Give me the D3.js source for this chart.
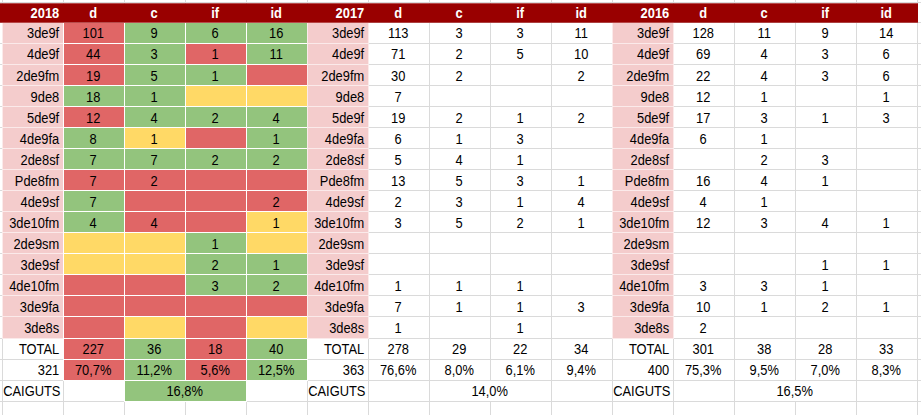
<!DOCTYPE html>
<html>
<head>
<meta charset="utf-8">
<script src="https://cdn.jsdelivr.net/npm/d3@7"></script>
<style>
  body { margin: 0; background: #fff; }
  svg { display: block; }
  text { font-family: "Liberation Sans", Arial, sans-serif; font-size: 14px; }
</style>
</head>
<body>
<svg id="sheet"></svg>
<script>
// Data
let years = ["2018", "2017", "2016"];
let cols = ["d", "c", "if", "id"];
let labels = ["3de9f", "4de9f", "2de9fm", "9de8", "5de9f", "4de9fa", "2de8sf", "Pde8fm",
  "4de9sf", "3de10fm", "2de9sm", "3de9sf", "4de10fm", "3de9fa", "3de8s"];

let values2018 = [
  [101, 9, 6, 16], [44, 3, 1, 11], [19, 5, 1, null], [18, 1, null, null],
  [12, 4, 2, 4], [8, 1, null, 1], [7, 7, 2, 2], [7, 2, null, null],
  [7, null, null, 2], [4, 4, null, 1], [null, null, 1, null], [null, null, 2, 1],
  [null, null, 3, 2], [null, null, null, null], [null, null, null, null]
];
let values2017 = [
  [113, 3, 3, 11], [71, 2, 5, 10], [30, 2, null, 2], [7, null, null, null],
  [19, 2, 1, 2], [6, 1, 3, null], [5, 4, 1, null], [13, 5, 3, 1],
  [2, 3, 1, 4], [3, 5, 2, 1], [null, null, null, null], [null, null, null, null],
  [1, 1, 1, null], [7, 1, 1, 3], [1, null, 1, null]
];
let values2016 = [
  [128, 11, 9, 14], [69, 4, 3, 6], [22, 4, 3, 6], [12, 1, null, 1],
  [17, 3, 1, 3], [6, 1, null, null], [null, 2, 3, null], [16, 4, 1, null],
  [4, 1, null, null], [12, 3, 4, 1], [null, null, null, null], [null, null, 1, 1],
  [3, 3, 1, null], [10, 1, 2, 1], [2, null, null, null]
];

// 2018 conditional colours: R = worse, G = better, Y = equal
let status2018 = ["RGGG", "RGRG", "RGGR", "GGYY", "RGGG", "GYRG", "GGGG", "RRRR",
  "GRRR", "GRRY", "YYGY", "YYGG", "RRGG", "RRRR", "RYRY"];
let statusTotal2018 = "RGRG";
let statusPct2018 = "RGRG";
let statusCaiguts2018 = "G";

let valuesByYear = [values2018, values2017, values2016];

// Sizes
let width = 921;
let height = 415;
let colors = { R: "#e06666", G: "#93c47d", Y: "#ffd966" };
let pink = "#f4cccc";
let headRed = "#990000";
let gridColor = "#dadada";

let fmtPct = v => d3.format(".1f")(v * 100).replace(".", ",") + "%";

// Scales
let x = d3.scaleBand().domain(d3.range(15)).range([1.7, 916.7]);
let rowKeys = labels.concat(["TOTAL", "PCT", "CAIGUTS"]);
let y = d3.scaleBand().domain(rowKeys).range([22.7, 401.7]);
let headTop = 3.3, headBottom = 22.7;
let cw = x.bandwidth(), rh = y.bandwidth();

let svg = d3.select("#sheet").attr("width", width).attr("height", height);

// Grid
let vx = d3.range(16).map(i => 1.7 + i * cw);
svg.append("g").selectAll("line").data(vx).enter().append("line")
  .attr("x1", d => Math.round(d) + 0.5).attr("x2", d => Math.round(d) + 0.5)
  .attr("y1", 0).attr("y2", height)
  .attr("stroke", gridColor);
let hy = [headTop].concat(rowKeys.map(r => y(r)), [401.7]);
svg.append("g").selectAll("line").data(hy).enter().append("line")
  .attr("x1", 0).attr("x2", width)
  .attr("y1", d => Math.round(d) - 0.5).attr("y2", d => Math.round(d) - 0.5)
  .attr("stroke", gridColor);

// Cells
let cells = [];
years.forEach((yr, k) => {
  let c0 = k * 5;
  let vals = valuesByYear[k];
  let sums = cols.map((c, j) => d3.sum(vals, r => r[j]));
  let total = d3.sum(sums);
  labels.forEach((lab, i) => {
    cells.push({ c: c0, w: 1, r: lab, text: lab, align: "end", fill: pink, edge: "#fbeaea" });
    cols.forEach((c, j) => {
      let st = k === 0 ? status2018[i][j] : null;
      cells.push({ c: c0 + 1 + j, w: 1, r: lab, text: vals[i][j] == null ? "" : vals[i][j],
        align: "middle", fill: st ? colors[st] : null, edge: "#fff" });
    });
  });
  cells.push({ c: c0, w: 1, r: "TOTAL", text: "TOTAL", align: "end" });
  cells.push({ c: c0, w: 1, r: "PCT", text: total, align: "end" });
  cells.push({ c: c0, w: 1, r: "CAIGUTS", text: "CAIGUTS", align: "start" });
  cols.forEach((c, j) => {
    cells.push({ c: c0 + 1 + j, w: 1, r: "TOTAL", text: sums[j], align: "middle",
      fill: k === 0 ? colors[statusTotal2018[j]] : null, edge: "#fff" });
    cells.push({ c: c0 + 1 + j, w: 1, r: "PCT", text: fmtPct(sums[j] / total), align: "middle",
      fill: k === 0 ? colors[statusPct2018[j]] : null, edge: "#fff" });
  });
  // merged c + if cell
  cells.push({ c: c0 + 2, w: 2, r: "CAIGUTS", text: fmtPct((sums[1] + sums[2]) / total), align: "middle",
    fill: k === 0 ? colors[statusCaiguts2018] : "#fff", edge: k === 0 ? "#fff" : gridColor });
});

let cg = svg.append("g").selectAll("g").data(cells).enter().append("g");

cg.filter(d => d.fill).append("rect")
  .attr("x", d => Math.round(x(d.c)) + 0.5)
  .attr("y", d => Math.round(y(d.r)) - 0.5)
  .attr("width", d => Math.round(x(d.c) + d.w * cw) - Math.round(x(d.c)))
  .attr("height", d => Math.round(y(d.r) + rh) - Math.round(y(d.r)))
  .attr("fill", d => d.fill)
  .attr("stroke", d => d.edge);

cg.append("text")
  .attr("transform", d => {
    let tx = d.align === "end" ? x(d.c) + d.w * cw - 3.5
      : d.align === "start" ? x(d.c) + 1.5
      : x(d.c) + d.w * cw / 2;
    return `translate(${tx}, ${y(d.r) + rh / 2 + 5.2}) scale(0.92, 1)`;
  })
  .attr("text-anchor", d => d.align)
  .attr("fill", "#000")
  .text(d => d.text);

// Header row
svg.append("rect")
  .attr("x", 0).attr("y", headTop)
  .attr("width", 918).attr("height", headBottom - headTop)
  .attr("fill", headRed);

let heads = [];
years.forEach((yr, k) => {
  heads.push({ c: k * 5, text: yr, align: "end" });
  cols.forEach((c, j) => heads.push({ c: k * 5 + 1 + j, text: c, align: "middle" }));
});

svg.append("g").selectAll("text").data(heads).enter().append("text")
  .attr("transform", d => {
    let tx = d.align === "end" ? x(d.c) + cw - 3.5 : x(d.c) + cw / 2;
    return `translate(${tx}, ${(headTop + headBottom) / 2 + 5.2}) scale(0.92, 1)`;
  })
  .attr("text-anchor", d => d.align)
  .attr("fill", "#fff")
  .attr("font-weight", "bold")
  .text(d => d.text);
</script>
</body>
</html>
